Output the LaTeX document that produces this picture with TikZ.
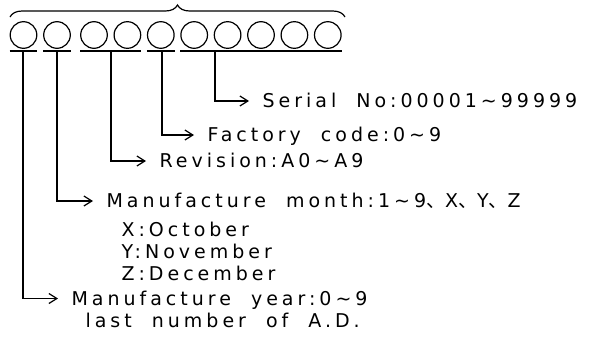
\documentclass[tikz,border=0pt]{standalone}
\usepackage{fontspec}
\setmainfont{DejaVu Sans}[LetterSpace=21,WordSpace=2]
\newfontfamily\cjk{Noto Sans CJK JP}
\usetikzlibrary{arrows.meta,decorations.pathreplacing}
\newcommand{\dun}{{\cjk\makebox[10pt][l]{、}}\hspace{9pt}}

\begin{document}
\begin{tikzpicture}[x=1pt,y=-1pt,line width=1.2pt]
      \useasboundingbox (0,0) rectangle (590,340);
      \tikzset{C/.style = {shape=circle, draw, minimum size=26.6pt, inner sep=0pt}}
      \tikzset{T/.style = {anchor=west, inner sep=0pt, text height=13.8pt, text depth=0pt, font=\fontsize{19}{19}\selectfont}}
      \tikzset{E/.style = {draw,-{Straight Barb[length=8pt,width=10pt]}}}
      \node[C](c1) at (23.5,35) {};
      \node[C](c2) at (57,35) {};
      \node[C](c3) at (94,35) {};
      \node[C](c4) at (127.4,35) {};
      \node[C](c5) at (160.8,35) {};
      \node[C](c6) at (194.2,35) {};
      \node[C](c7) at (227.6,35) {};
      \node[C](c8) at (261,35) {};
      \node[C](c9) at (294.4,35) {};
      \node[C](c10) at (327.8,35) {};
      \draw[decorate,decoration={brace,amplitude=12pt}] (10,17) -- (345,17);
      \draw (c1.west |- 0,51) -- (c1.east |- 0,51);
      \draw (c2.west |- 0,51) -- (c2.east |- 0,51);
      \draw (c3.west |- 0,51) -- (c4.east |- 0,51);
      \draw (c5.west |- 0,51) -- (c5.east |- 0,51);
      \draw (c6.west |- 0,51) -- (c10.east |- 0,51);
      \coordinate (g1) at (23,51);
      \coordinate (g2) at (57,51);
      \coordinate (g3) at (111,51);
      \coordinate (g4) at (162,51);
      \coordinate (g5) at (215,51);
      \node[T](sn) at (262,101) {Serial No:00001\textasciitilde 99999};
      \node[T](fc) at (207,135) {Factory code:0\textasciitilde 9};
      \node[T](rv) at (159,161) {Revision:A0\textasciitilde A9};
      \node[T](mm) at (106,201) {Manufacture month:1\textasciitilde 9\dun X\dun Y\dun Z};
      \node[T](mx) at (121,229.5) {X:October};
      \node[T](my) at (121,252) {Y:November};
      \node[T](mz) at (121,274) {Z:December};
      \node[T](yr) at (71,298.5) {Manufacture year:0\textasciitilde 9};
      \node[T](ad) at (85,321) {last number of A.D.};
      \draw[E](g5) |- ([xshift=-13pt]sn.west);
      \draw[E](g4) |- ([xshift=-13pt]fc.west);
      \draw[E](g3) |- ([xshift=-13pt]rv.west);
      \draw[E](g2) |- ([xshift=-13pt]mm.west);
      \draw[E](g1) |- ([xshift=-13pt]yr.west);
\end{tikzpicture}
\end{document}
